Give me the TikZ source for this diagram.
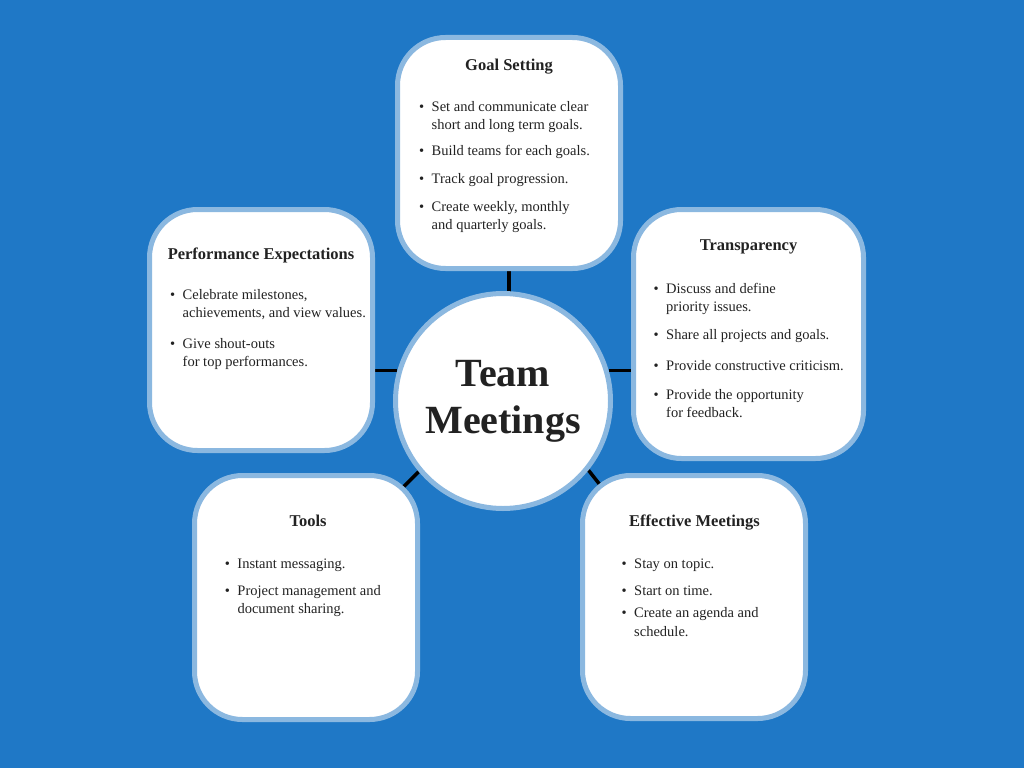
\documentclass[tikz,border=0pt]{standalone}
\usepackage{fontspec}
\setmainfont{Liberation Serif}
\usetikzlibrary{calc}
\definecolor{bgblue}{HTML}{1F78C6}
\definecolor{rim}{HTML}{8BB8E0}
\definecolor{ink}{HTML}{222222}
\pgfdeclarelayer{bgfill}
\pgfdeclarelayer{links}
\pgfsetlayers{bgfill,links,main}
\newcommand{\mybul}{\leavevmode\llap{\textbullet\hspace{7.5pt}}}
\begin{document}
\begin{tikzpicture}[x=1pt,y=-1pt,
  card/.style={draw=rim, line width=5pt, fill=white, rounded corners=48pt, inner sep=0pt},
  hubnode/.style={circle, draw=rim, line width=5pt, fill=white, minimum size=215pt, inner sep=0pt,
    text=ink, font=\fontsize{40}{47}\selectfont\bfseries, align=center},
  ttl/.style={anchor=base, inner sep=0pt, text=ink, font=\fontsize{16.5}{20}\selectfont\bfseries},
  itm/.style={anchor=base west, inner sep=0pt, text=ink, text width=215pt, align=flush left,
    font=\fontsize{14.5}{18.3}\selectfont},
  conn/.style={line width=3.5pt, draw=black}]
\useasboundingbox (0,0) rectangle (1024,768);
\begin{pgfonlayer}{bgfill}
\fill[bgblue] (0,0) rectangle (1024,768);
\end{pgfonlayer}

% boxes
\node[card, minimum width=223pt, minimum height=231pt] (goal)  at (509,153) {};
\node[card, minimum width=223pt, minimum height=241pt] (perf)  at (261,330) {};
\node[card, minimum width=230pt, minimum height=249pt] (trans) at (748.5,334) {};
\node[card, minimum width=223pt, minimum height=244pt] (tools) at (306,597.5) {};
\node[card, minimum width=223pt, minimum height=243pt] (eff)   at (694,597) {};
\node[hubnode] (hub) at (503,401) {Team\\Meetings};

% connectors
\begin{pgfonlayer}{links}
\draw[conn] (goal.south) -- (goal.south |- hub.center);
\draw[conn] (hub.164) -- (hub.164 -| perf.east);
\draw[conn] (hub.16) -- (hub.16 -| trans.west);
\draw[conn] (hub.220) -- ++(-25,25);
\draw[conn] (hub.321) -- ++(22,28);
\end{pgfonlayer}

% titles
\node[ttl] (goalT)  at (509,70.5)  {Goal Setting};
\node[ttl] (perfT)  at (261,259.3) {Performance Expectations};
\node[ttl] (transT) at (748.5,250) {Transparency};
\node[ttl] (toolsT) at (308,526.7) {Tools};
\node[ttl] (effT)   at (694.5,526) {Effective Meetings};

% Goal Setting items
\node[itm] (g1) at (431.5,111)   {\mybul Set and communicate clear\\short and long term goals.};
\node[itm] (g2) at (431.5,155)   {\mybul Build teams for each goals.};
\node[itm] (g3) at (431.5,183)   {\mybul Track goal progression.};
\node[itm] (g4) at (431.5,211.5) {\mybul Create weekly, monthly\\and quarterly goals.};

% Performance Expectations items
\node[itm] (p1) at (182.5,299)   {\mybul Celebrate milestones,\\achievements, and view values.};
\node[itm] (p2) at (182.5,348.3) {\mybul Give shout-outs\\for top performances.};

% Transparency items
\node[itm] (t1) at (666,293.3) {\mybul Discuss and define\\priority issues.};
\node[itm] (t2) at (666,339.3) {\mybul Share all projects and goals.};
\node[itm] (t3) at (666,370)   {\mybul Provide constructive criticism.};
\node[itm] (t4) at (666,399.3) {\mybul Provide the opportunity\\for feedback.};

% Tools items
\node[itm] (o1) at (237.3,568.3) {\mybul Instant messaging.};
\node[itm] (o2) at (237.3,595)   {\mybul Project management and\\document sharing.};

% Effective Meetings items
\node[itm] (e1) at (634,568.3) {\mybul Stay on topic.};
\node[itm] (e2) at (634,595)   {\mybul Start on time.};
\node[itm] (e3) at (634,617.7) {\mybul Create an agenda and\\schedule.};
\end{tikzpicture}
\end{document}
